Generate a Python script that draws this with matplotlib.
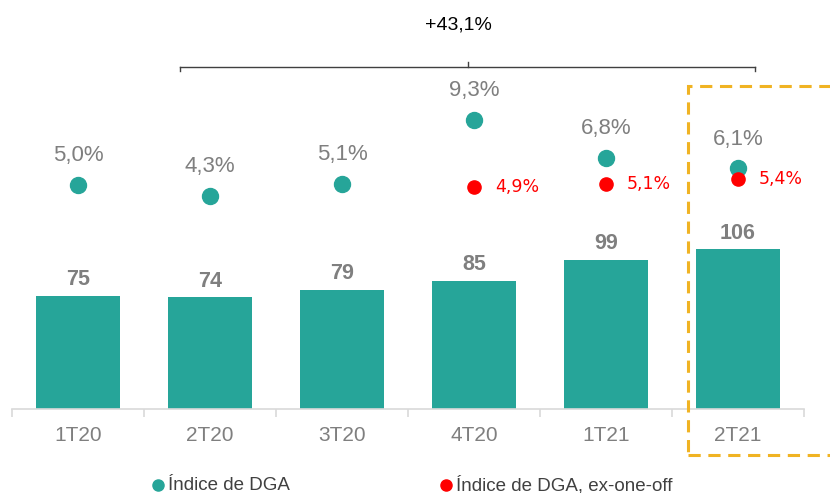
import matplotlib
matplotlib.use("Agg")
import matplotlib.pyplot as plt
from matplotlib.lines import Line2D
from matplotlib.patches import Rectangle

# data
quarters = ["1T20", "2T20", "3T20", "4T20", "1T21", "2T21"]
dga_values = [75, 74, 79, 85, 99, 106]
dga_index = [5.0, 4.3, 5.1, 9.3, 6.8, 6.1]
dga_ex_oneoff = [None, None, None, 4.9, 5.1, 5.4]
growth_label = "+43,1%"

teal = "#26a599"
red = "#ff0000"
gray = "#7f7f7f"
narrow = ["Liberation Sans Narrow", "Liberation Sans", "DejaVu Sans"]

W, H = 830, 493
fig = plt.figure(figsize=(W / 100, H / 100), dpi=100)
ax = fig.add_axes([12 / W, 84 / H, 792 / W, 409 / H])

x = list(range(len(quarters)))
bars = ax.bar(x, dga_values, width=0.63, color=teal, zorder=2)
ax.bar_label(bars, labels=[str(v) for v in dga_values], padding=4,
             fontsize=15.5, fontweight="bold", color=gray,
             family=["Liberation Sans", "DejaVu Sans"])
ax.set_xlim(-0.5, len(quarters) - 0.5)
ax.set_ylim(0, 409 / 1.507)

for s in ["top", "right", "left"]:
    ax.spines[s].set_visible(False)
ax.spines["bottom"].set_color("#d9d9d9")
ax.spines["bottom"].set_linewidth(1.2)
ax.set_yticks([])
ax.set_xticks([i - 0.5 for i in range(len(quarters) + 1)], minor=False)
ax.set_xticklabels([])
ax.tick_params(axis="x", which="major", length=6, color="#d9d9d9", width=1.2)
ax.set_xticks(x, minor=True)
ax.set_xticklabels(quarters, minor=True)
ax.tick_params(axis="x", which="minor", length=0, pad=12, labelsize=15,
               labelcolor=gray)
for t in ax.get_xticklabels(minor=True):
    t.set_family(narrow)

# secondary scale for the ratios
ax2 = ax.twinx()
ax2.set_ylim(-9.83, 17.25)
ax2.axis("off")
ax2.plot(x, dga_index, "o", color=teal, markersize=11.5, zorder=3)
for xi, v in zip(x, dga_index):
    ax2.annotate(f"{v:.1f}%".replace(".", ","), (xi, v), xytext=(0, 21),
                 textcoords="offset points", ha="center", va="center",
                 fontsize=16, color=gray, family=["Liberation Sans", "DejaVu Sans"])
for xi, v in zip(x, dga_ex_oneoff):
    if v is None:
        continue
    ax2.plot(xi, v, "o", color=red, markersize=9.5, zorder=4)
    ax2.annotate(f"{v:.1f}%".replace(".", ","), (xi, v), xytext=(15, 0),
                 textcoords="offset points", ha="left", va="center",
                 fontsize=12.5, color=red)

# growth bracket
def fx(px):
    return px / W

def fy(py):
    return 1 - py / H

lc = "#404040"
fig.add_artist(Line2D([fx(180), fx(755)], [fy(67), fy(67)], color=lc, lw=1))
fig.add_artist(Line2D([fx(180), fx(180)], [fy(67), fy(71)], color=lc, lw=1))
fig.add_artist(Line2D([fx(755), fx(755)], [fy(67), fy(71)], color=lc, lw=1))
fig.add_artist(Line2D([fx(468), fx(468)], [fy(67), fy(62)], color=lc, lw=1))
fig.text(fx(458), fy(25), growth_label, ha="center", va="center",
         fontsize=14, color="black", family=narrow)

# highlight box for last quarter
fig.add_artist(Rectangle((fx(688), fy(455)), fx(160), fy(86) - fy(455),
                         fill=False, edgecolor="#f0b323", lw=2.2,
                         linestyle=(0, (4, 2.5))))

# legend
fig.add_artist(Line2D([fx(158)], [fy(485)], marker="o", color=teal,
                      markersize=8, linestyle="none"))
fig.text(fx(168), fy(485), "Índice de DGA", ha="left", va="center",
         fontsize=13.5, color="#404040", family=narrow)
fig.add_artist(Line2D([fx(446)], [fy(485)], marker="o", color=red,
                      markersize=8, linestyle="none"))
fig.text(fx(456), fy(485), "Índice de DGA, ex-one-off", ha="left", va="center",
         fontsize=13.5, color="#404040", family=narrow)

fig.savefig("out.png", dpi=100)
